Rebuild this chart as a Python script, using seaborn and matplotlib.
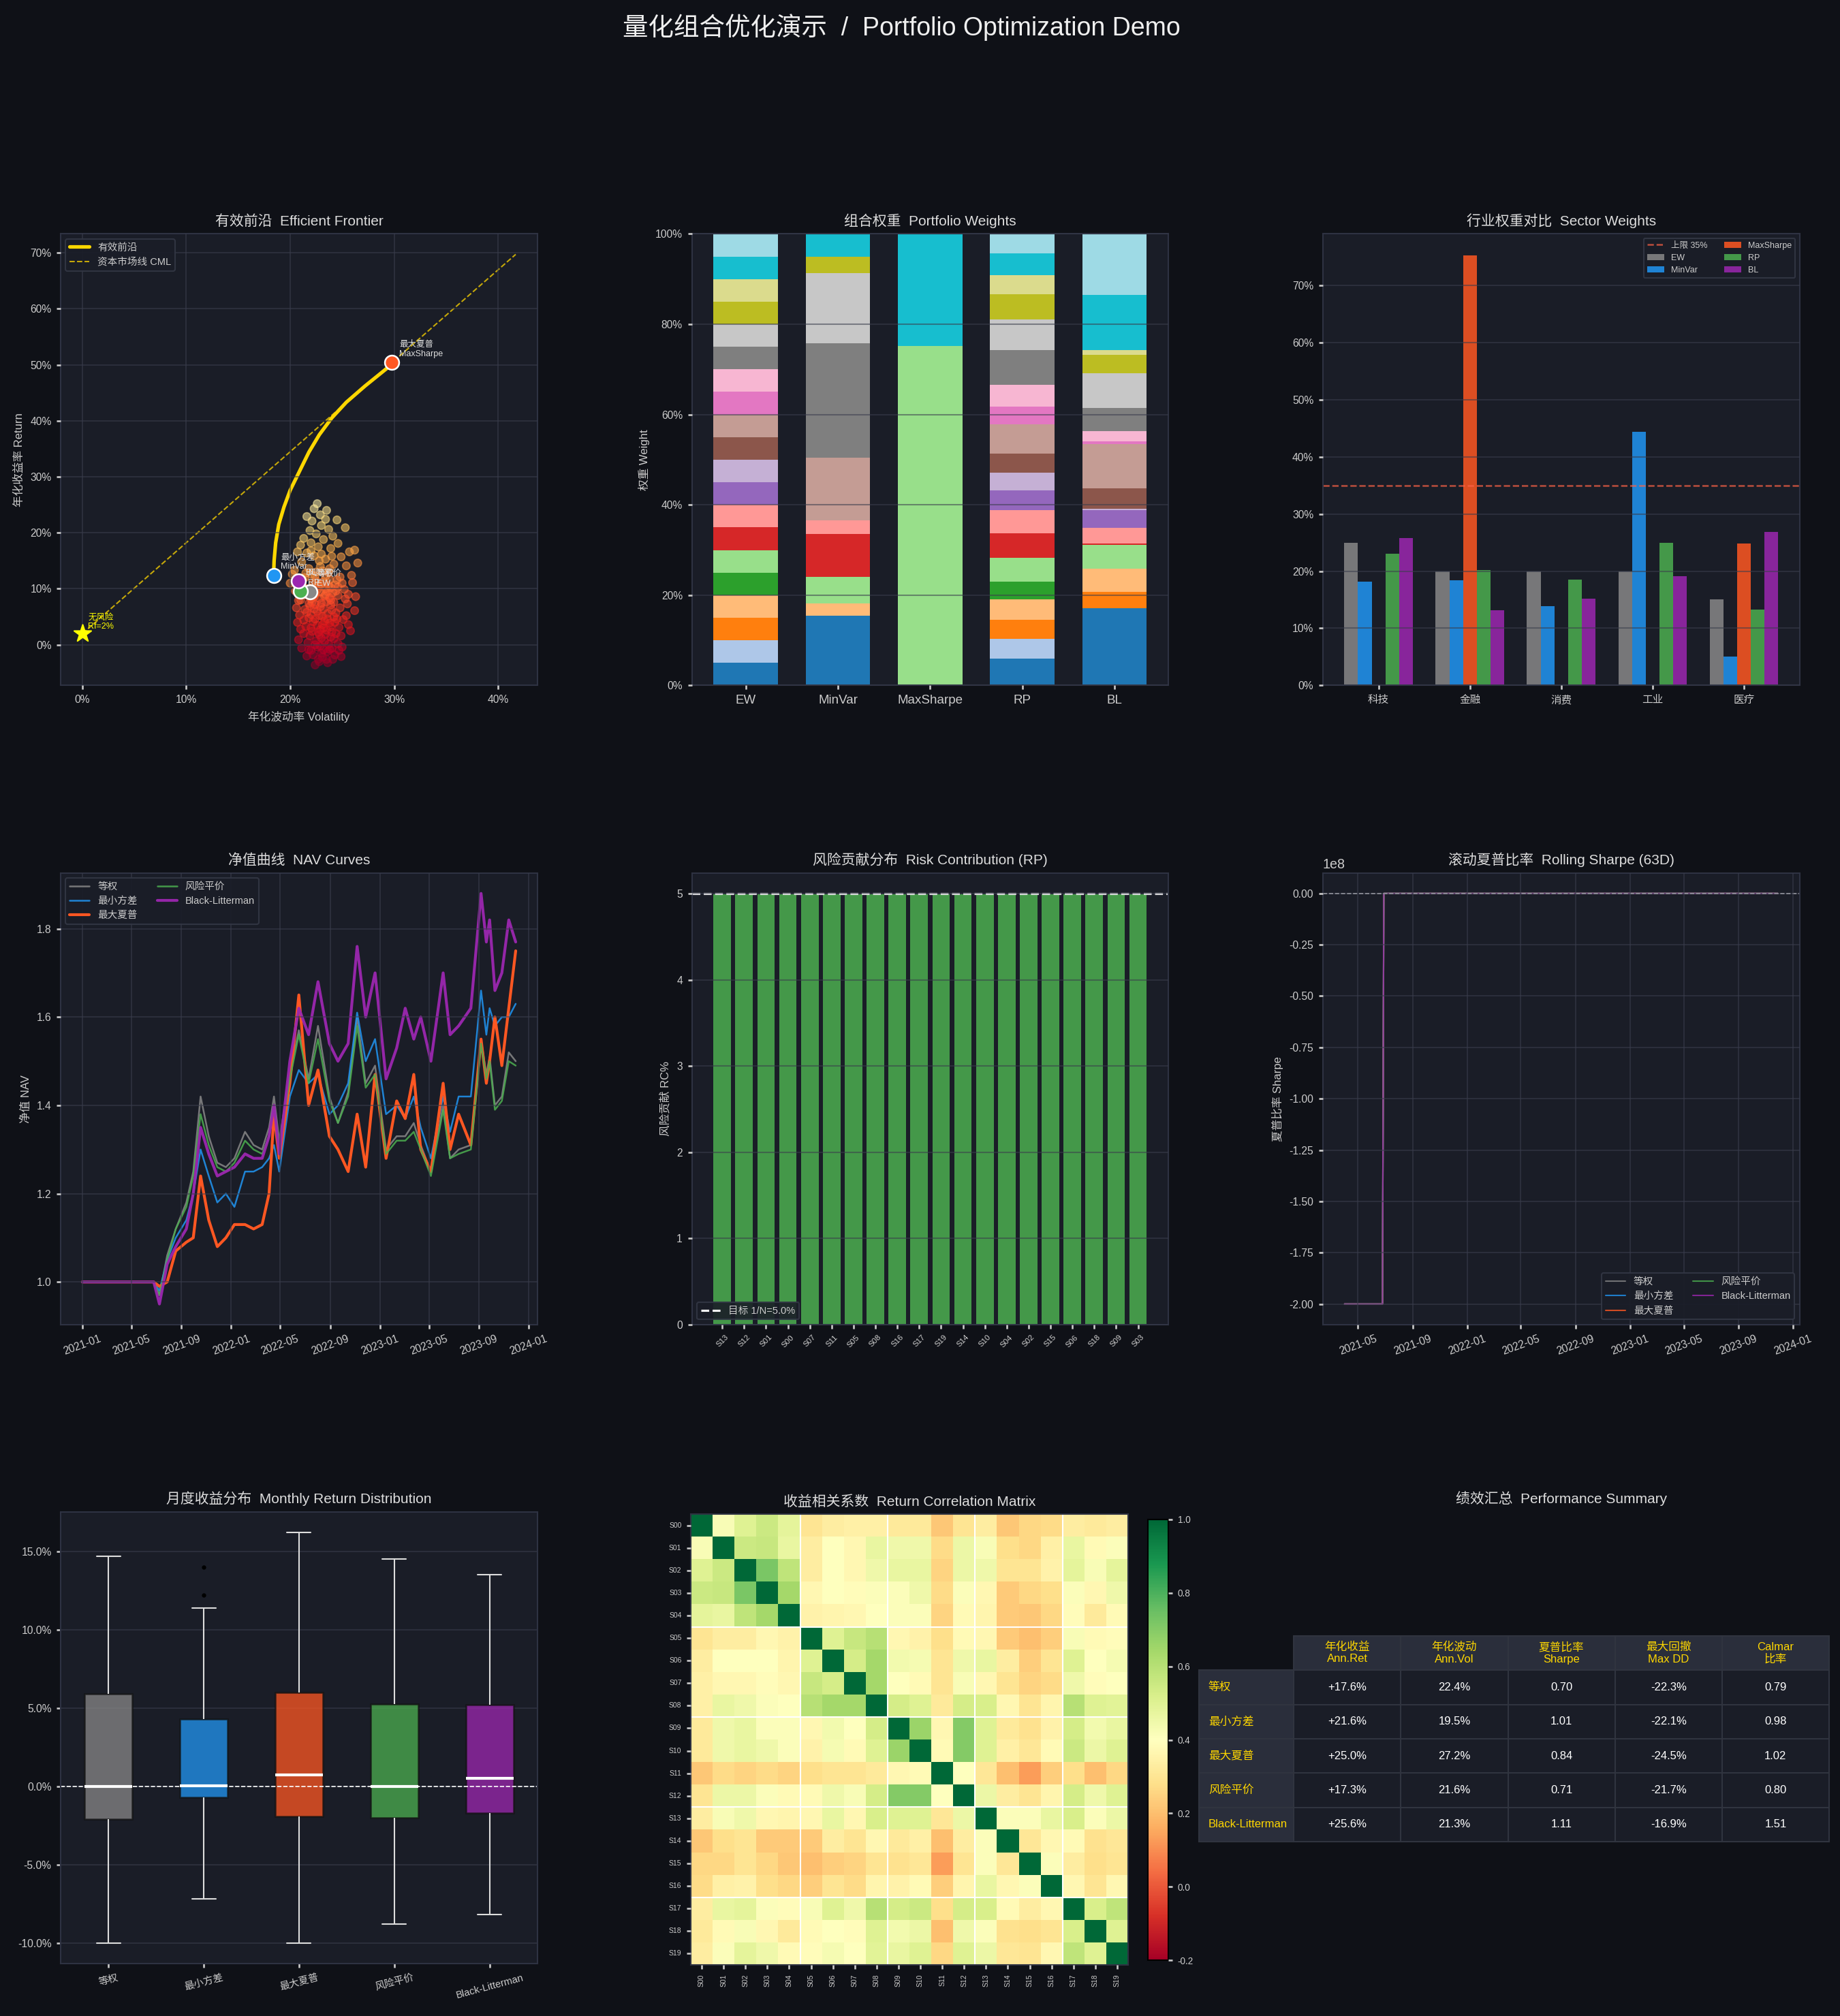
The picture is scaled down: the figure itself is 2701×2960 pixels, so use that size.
import matplotlib
matplotlib.use("Agg")
import matplotlib.pyplot as plt
import matplotlib.dates as mdates
from matplotlib.ticker import FuncFormatter, PercentFormatter
import numpy as np
import pandas as pd
import seaborn as sns

# === COLOURS === #
BG = "#0f1117"
PANEL = "#1a1d27"
SPINE = "#2e3242"
GRID = "#3a3d4c"
TXT = "#dddddd"
TICK = "#cccccc"

sns.set_theme(
    style="darkgrid",
    rc={
        "figure.facecolor": BG,
        "axes.facecolor": PANEL,
        "axes.edgecolor": SPINE,
        "axes.linewidth": 1.0,
        "axes.labelcolor": TICK,
        "axes.grid": True,
        "axes.axisbelow": False,
        "grid.color": GRID,
        "grid.alpha": 0.55,
        "grid.linewidth": 1.0,
        "text.color": TXT,
        "xtick.color": TICK,
        "ytick.color": TICK,
        "xtick.bottom": True,
        "ytick.left": True,
        "xtick.major.size": 3,
        "ytick.major.size": 3,
        "xtick.labelsize": 9.5,
        "ytick.labelsize": 9.5,
        "legend.facecolor": PANEL,
        "legend.edgecolor": "#333745",
        "legend.labelcolor": TICK,
        "legend.framealpha": 0.9,
        "axes.unicode_minus": False,
    },
)
plt.rcParams["font.family"] = ["Liberation Sans", "Noto Sans CJK SC", "DejaVu Sans"]

# === DATA === #
PORTS = ["EW", "MinVar", "MaxSharpe", "RP", "BL"]
PORT_CN = ["等权", "最小方差", "最大夏普", "风险平价", "Black-Litterman"]
PORT_COLORS = ["#888888", "#2196F3", "#FF5722", "#4CAF50", "#9C27B0"]

STOCKS = [f"S{i:02d}" for i in range(20)]
STOCK_SECTOR = ["科技"] * 5 + ["金融"] * 4 + ["消费"] * 4 + ["工业"] * 4 + ["医疗"] * 3
SECTORS = ["科技", "金融", "消费", "工业", "医疗"]

# weights in %, one value per stock S00..S19
w_ew = [5.0] * 20
w_minvar = [15.5, 0, 0, 2.7, 0, 5.9, 9.4, 3.1, 0, 0, 0, 13.9, 0, 0, 25.3, 15.5, 3.6, 0, 5.1, 0]
w_maxsharpe = [0, 0, 0, 0, 0, 75.2, 0, 0, 0, 0, 0, 0, 0, 0, 0, 0, 0, 0, 24.8, 0]
w_rp = [5.9, 4.4, 4.2, 4.6, 3.9, 5.2, 5.5, 5.1, 4.4, 3.9, 4.3, 6.4, 3.9, 4.9, 7.6, 6.8, 5.7, 4.2, 4.8, 4.3]
w_bl = [17.1, 0, 3.7, 5.0, 0, 5.3, 0.3, 3.5, 4.0, 0.3, 4.5, 9.7, 0.7, 2.2, 5.1, 7.7, 4.1, 1.0, 12.3, 13.5]

# efficient frontier (vol %, ret %)
frontier_vol = [18.4, 18.45, 18.6, 18.9, 19.4, 20.0, 20.9, 21.8, 22.8, 24.0, 25.4, 27.2, 28.8, 29.4]
frontier_ret = [12.4, 15.0, 18.2, 21.5, 24.6, 27.6, 31.0, 34.4, 37.5, 40.5, 43.3, 46.2, 48.6, 49.5]
cml_vol = [0.0, 41.7]
cml_ret = [2.0, 69.7]
point_vol = [21.9, 18.4, 29.8, 21.0, 20.8]
point_ret = [9.4, 12.4, 50.4, 9.6, 11.4]
point_text = ["等权\nEW", "最小方差\nMinVar", "最大夏普\nMaxSharpe", "风险平价\nRP", "BL"]

cloud_vol = [
    22.6, 22.3, 23.5, 22.9, 21.6, 22.1, 23.4, 24.5, 25.3, 23.0, 21.9, 23.7, 22.5, 24.1, 21.3, 23.2, 22.0, 24.6,
    22.7, 23.9, 21.0, 25.7, 26.2, 21.6, 20.7, 24.9, 26.5, 22.3, 23.4, 21.1, 25.4, 24.2, 22.9, 20.4, 21.8, 23.7,
    25.9, 24.8, 22.4, 20.2, 21.4, 23.1, 22.0, 23.0, 24.0, 26.0, 21.2, 23.2, 20.0, 24.3, 25.2, 22.0, 23.6, 21.5,
    26.3, 24.6, 22.8, 20.8, 25.5, 23.9, 21.9, 22.6, 24.4, 26.2, 23.1, 20.9, 25.1, 22.2, 23.8, 21.5, 24.7, 22.9,
    25.8, 23.4, 21.9, 24.2, 22.5, 20.8, 23.7, 22.7, 23.9, 21.7, 22.4, 23.3, 24.1, 21.2, 22.1, 23.5, 24.8, 21.4,
    22.9, 23.6, 24.5, 21.8, 22.6, 23.2, 24.0, 22.1, 23.0, 24.9, 21.3, 22.3, 23.8, 25.0, 21.0, 22.5, 23.4, 24.6,
    20.5, 25.6, 22.0, 23.3, 25.4, 20.6, 24.2, 25.0, 22.0, 23.0, 24.3, 21.6, 22.7, 23.6, 24.9, 22.4, 23.8, 22.9,
    21.1, 22.2, 23.0, 23.8, 22.6, 23.4, 24.4, 21.6, 22.9, 23.9, 22.4, 23.2, 24.0, 21.8, 22.8, 23.6, 24.3, 21.6,
    22.4, 23.1, 23.9, 22.0, 22.8, 23.5, 24.4, 21.7, 22.6, 23.3, 24.0, 23.1, 22.2, 23.6, 24.6, 22.5, 23.4, 22.0,
    23.8, 22.8, 21.5, 24.5, 20.9, 25.3, 20.7, 25.6, 21.0, 24.7, 23.5, 22.0, 23.0, 24.2, 21.3, 22.3, 23.7, 22.7,
    23.9, 22.4, 21.8, 23.2, 24.1, 22.8, 21.9,
]
cloud_ret = [
    25.2, 24.3, 24.0, 23.2, 22.9, 22.1, 22.4, 22.3, 20.9, 21.3, 20.4, 20.6, 19.8, 19.4, 19.0, 18.8, 18.2, 18.1,
    17.5, 17.2, 17.8, 16.6, 16.9, 16.4, 16.6, 15.7, 14.6, 15.9, 15.3, 14.8, 14.1, 14.4, 14.0, 13.3, 13.6, 12.9,
    12.4, 12.1, 12.3, 12.6, 12.0, 13.2, 16.8, 16.2, 15.8, 11.1, 11.6, 11.3, 11.0, 10.7, 9.9, 10.1, 9.5, 8.9,
    8.6, 8.8, 8.3, 7.9, 7.3, 7.1, 6.9, 6.0, 5.7, 6.1, 5.1, 5.3, 4.5, 4.1, 3.9, 3.3, 3.1, 2.7,
    2.5, 1.9, 1.6, 1.1, 0.7, 0.9, 0.1, 10.6, 10.2, 9.6, 9.1, 8.7, 9.3, 10.4, 7.6, 7.7, 6.6, 6.3,
    6.8, 5.6, 4.6, 4.8, 3.5, 3.0, 2.3, 2.4, 1.2, 1.6, 2.0, 8.6, 8.4, 11.0, 8.0, 11.4, 10.0, 10.3,
    9.6, 9.0, 5.4, 4.2, 5.2, 6.6, 7.6, -0.4, -1.0, -1.5, -1.8, -2.0, -2.6, -3.2, -2.1, -3.6, -0.8, -0.2,
    -0.6, 11.0, 10.8, 11.6, 9.8, 9.0, 9.6, 10.0, 9.4, 8.0, 7.2, 6.4, 6.2, 7.4, 5.2, 4.6, 4.0, 5.8,
    4.6, 3.6, 3.2, 3.0, 1.8, 2.6, 2.0, 0.4, -0.4, 0.6, -0.6, -2.2, -1.8, -1.2, 0.2, 13.0, 12.2, 12.6,
    13.6, 15.0, 12.8, 11.6, 9.8, 8.2, 4.0, 3.6, 2.8, -1.0, -2.6, 8.2, 7.4, 5.0, 4.4, 6.4, 10.6, 2.2,
    1.4, 0.0, -0.9, -0.9, -2.6, -3.0, 9.2,
]

# NAV curves
nav_dates = [
    "2021-01-01", "2021-06-25", "2021-07-09", "2021-07-28", "2021-08-18", "2021-09-13", "2021-09-30",
    "2021-10-18", "2021-11-07", "2021-11-28", "2021-12-19", "2022-01-09", "2022-02-04", "2022-02-25",
    "2022-03-18", "2022-04-04", "2022-04-16", "2022-04-29", "2022-05-25", "2022-06-16", "2022-07-10",
    "2022-08-02", "2022-08-30", "2022-09-20", "2022-10-15", "2022-11-06", "2022-11-27", "2022-12-20",
    "2023-01-16", "2023-02-11", "2023-03-04", "2023-03-25", "2023-04-11", "2023-05-06", "2023-06-05",
    "2023-06-22", "2023-07-13", "2023-08-12", "2023-09-06", "2023-09-19", "2023-09-27", "2023-10-10",
    "2023-10-27", "2023-11-13", "2023-11-30",
]
nav_ew = [1.00, 1.00, 0.97, 1.06, 1.12, 1.18, 1.25, 1.42, 1.33, 1.27, 1.26, 1.28, 1.34, 1.31, 1.30, 1.35,
          1.42, 1.32, 1.47, 1.57, 1.46, 1.58, 1.42, 1.36, 1.43, 1.60, 1.45, 1.49, 1.30, 1.33, 1.33, 1.36,
          1.31, 1.25, 1.40, 1.28, 1.30, 1.31, 1.55, 1.47, 1.51, 1.40, 1.42, 1.52, 1.50]
nav_minvar = [1.00, 1.00, 0.98, 1.05, 1.10, 1.14, 1.20, 1.30, 1.24, 1.18, 1.20, 1.17, 1.25, 1.25, 1.26, 1.28,
              1.31, 1.25, 1.42, 1.48, 1.45, 1.47, 1.38, 1.40, 1.45, 1.61, 1.50, 1.55, 1.38, 1.40, 1.37, 1.42,
              1.35, 1.28, 1.42, 1.34, 1.42, 1.42, 1.66, 1.56, 1.62, 1.58, 1.60, 1.60, 1.63]
nav_maxsharpe = [1.00, 1.00, 0.99, 1.00, 1.07, 1.09, 1.10, 1.24, 1.14, 1.08, 1.10, 1.13, 1.13, 1.12, 1.13, 1.20,
                 1.38, 1.28, 1.45, 1.65, 1.40, 1.48, 1.33, 1.30, 1.25, 1.38, 1.26, 1.47, 1.28, 1.41, 1.37, 1.47,
                 1.30, 1.25, 1.45, 1.30, 1.38, 1.31, 1.55, 1.45, 1.50, 1.60, 1.49, 1.62, 1.75]
nav_rp = [1.00, 1.00, 0.97, 1.05, 1.12, 1.17, 1.24, 1.38, 1.31, 1.26, 1.25, 1.27, 1.32, 1.30, 1.29, 1.33,
          1.40, 1.31, 1.46, 1.56, 1.45, 1.55, 1.41, 1.36, 1.42, 1.58, 1.44, 1.47, 1.29, 1.32, 1.32, 1.34,
          1.30, 1.24, 1.39, 1.28, 1.29, 1.30, 1.54, 1.46, 1.50, 1.39, 1.41, 1.50, 1.49]
nav_bl = [1.00, 1.00, 0.95, 1.04, 1.08, 1.12, 1.20, 1.35, 1.29, 1.24, 1.25, 1.26, 1.29, 1.28, 1.28, 1.33,
          1.40, 1.29, 1.50, 1.62, 1.56, 1.68, 1.54, 1.50, 1.54, 1.76, 1.60, 1.70, 1.46, 1.53, 1.62, 1.55,
          1.60, 1.50, 1.70, 1.56, 1.58, 1.62, 1.88, 1.77, 1.82, 1.66, 1.70, 1.82, 1.77]

# risk contribution of the RP portfolio (%), in plotted order
rc_labels = ["S13", "S12", "S01", "S00", "S07", "S11", "S05", "S08", "S16", "S17",
             "S19", "S14", "S10", "S04", "S02", "S15", "S06", "S18", "S09", "S03"]
rc_values = [4.99, 4.99, 4.99, 4.99, 4.99, 4.99, 4.99, 4.99, 4.99, 4.99,
             4.99, 4.99, 4.99, 4.99, 4.99, 4.99, 4.99, 4.99, 4.99, 4.99]

# rolling 63D sharpe
roll_dates = ["2021-04-01", "2021-06-25", "2021-06-28", "2021-08-16", "2021-10-18", "2021-12-20",
              "2022-02-21", "2022-04-25", "2022-06-27", "2022-08-29", "2022-10-31", "2022-12-30",
              "2023-03-01", "2023-05-01", "2023-07-03", "2023-09-05", "2023-11-28"]
roll_ew = [-2e8, -2e8, 0.0, 2.8, 3.9, -1.2, 1.1, 0.6, 2.4, 0.9, -0.8, 1.7, -1.5, -0.9, 0.4, 2.2, 0.8]
roll_minvar = [-2e8, -2e8, 0.0, 2.5, 3.4, -0.9, 1.3, 0.8, 2.6, 0.7, -0.2, 1.9, -1.1, -0.5, 0.6, 2.6, 1.2]
roll_maxsharpe = [-2e8, -2e8, 0.0, 1.9, 3.1, -1.6, 0.9, 1.5, 2.9, -0.4, -1.2, 2.1, -0.6, -1.0, 0.9, 1.8, 2.3]
roll_rp = [-2e8, -2e8, 0.0, 2.7, 3.7, -1.1, 1.0, 0.7, 2.3, 0.8, -0.7, 1.6, -1.4, -0.8, 0.3, 2.1, 0.7]
roll_bl = [-2e8, -2e8, 0.0, 2.2, 3.3, -0.8, 1.2, 1.0, 2.7, 0.5, 0.3, 1.8, -0.3, -0.6, 1.1, 2.9, 0.9]

# monthly returns (%)
mret_ew = [-10.0, -6.5, -4.8, -3.9, -3.2, -2.9, -2.6, -2.4, -2.2, -2.07, -1.5, -0.9, -0.3,
           0, 0, 0, 0, 0, 0,
           0.4, 1.2, 1.9, 2.6, 3.3, 4.1, 4.8, 5.8, 6.2, 6.9, 7.5, 8.3, 9.1, 10.2, 11.4, 12.8, 14.7]
mret_minvar = [-7.2, -5.1, -3.6, -2.5, -1.9, -1.4, -1.1, -0.9, -0.75, -0.68, -0.4, -0.15,
               0, 0, 0, 0, 0, 0,
               0.1, 0.6, 1.1, 1.6, 2.2, 2.8, 3.4, 3.9, 4.2, 4.6, 5.3, 6.1, 7.0, 8.2, 9.6, 11.4, 12.2, 14.0]
mret_maxsharpe = [-10.0, -7.1, -5.4, -4.3, -3.5, -2.9, -2.5, -2.2, -2.0, -1.87, -0.8,
                  0, 0, 0, 0, 0, 0,
                  0.5, 1.0, 1.7, 2.5, 3.2, 4.0, 4.8, 5.4, 5.8, 5.9, 6.3, 7.2, 8.1, 9.0, 10.3, 11.5, 12.9, 14.4, 16.2]
mret_rp = [-8.8, -6.0, -4.5, -3.6, -3.0, -2.7, -2.45, -2.25, -2.1, -1.97, -1.4, -0.8, -0.3,
           0, 0, 0, 0, 0, 0,
           0.3, 1.0, 1.6, 2.3, 2.9, 3.6, 4.3, 5.1, 5.7, 6.3, 7.0, 7.8, 8.7, 9.8, 11.0, 12.6, 14.5]
mret_bl = [-8.2, -5.9, -4.4, -3.4, -2.8, -2.4, -2.1, -1.9, -1.8, -1.67, -0.6,
           0, 0, 0, 0, 0, 0,
           0.3, 0.7, 1.3, 2.0, 2.7, 3.3, 3.9, 4.5, 4.9, 5.1, 5.5, 6.3, 7.1, 7.9, 8.8, 9.9, 11.0, 12.2, 13.5]

# return correlation matrix (rows S00..S19)
corr_rows = [
    [1.00, 0.42, 0.50, 0.55, 0.48, 0.30, 0.33, 0.34, 0.34, 0.32, 0.32, 0.22, 0.30, 0.33, 0.22, 0.26, 0.27, 0.33, 0.32, 0.33],
    [0.42, 1.00, 0.55, 0.56, 0.47, 0.33, 0.40, 0.37, 0.47, 0.45, 0.45, 0.27, 0.46, 0.42, 0.28, 0.26, 0.34, 0.47, 0.38, 0.41],
    [0.50, 0.55, 1.00, 0.72, 0.58, 0.33, 0.40, 0.37, 0.45, 0.47, 0.47, 0.25, 0.46, 0.45, 0.30, 0.30, 0.35, 0.48, 0.42, 0.48],
    [0.55, 0.56, 0.72, 1.00, 0.64, 0.37, 0.40, 0.39, 0.41, 0.41, 0.45, 0.27, 0.41, 0.37, 0.23, 0.26, 0.28, 0.41, 0.37, 0.45],
    [0.48, 0.47, 0.58, 0.64, 1.00, 0.35, 0.36, 0.37, 0.40, 0.41, 0.41, 0.25, 0.38, 0.36, 0.23, 0.22, 0.26, 0.39, 0.32, 0.38],
    [0.30, 0.33, 0.33, 0.37, 0.35, 1.00, 0.50, 0.56, 0.60, 0.37, 0.35, 0.28, 0.38, 0.37, 0.23, 0.20, 0.24, 0.42, 0.38, 0.39],
    [0.33, 0.40, 0.40, 0.40, 0.36, 0.50, 1.00, 0.53, 0.64, 0.44, 0.43, 0.30, 0.45, 0.47, 0.33, 0.24, 0.30, 0.50, 0.40, 0.43],
    [0.34, 0.37, 0.37, 0.39, 0.37, 0.56, 0.53, 1.00, 0.64, 0.40, 0.38, 0.30, 0.42, 0.37, 0.30, 0.25, 0.27, 0.45, 0.39, 0.40],
    [0.34, 0.47, 0.45, 0.41, 0.40, 0.60, 0.64, 0.64, 1.00, 0.53, 0.50, 0.32, 0.53, 0.52, 0.37, 0.30, 0.36, 0.60, 0.50, 0.49],
    [0.32, 0.45, 0.47, 0.41, 0.41, 0.37, 0.44, 0.40, 0.53, 1.00, 0.66, 0.37, 0.70, 0.50, 0.32, 0.29, 0.35, 0.53, 0.44, 0.47],
    [0.32, 0.45, 0.47, 0.45, 0.41, 0.35, 0.43, 0.38, 0.50, 0.66, 1.00, 0.38, 0.70, 0.50, 0.34, 0.31, 0.38, 0.55, 0.46, 0.50],
    [0.22, 0.27, 0.25, 0.27, 0.25, 0.28, 0.30, 0.30, 0.32, 0.37, 0.38, 1.00, 0.40, 0.31, 0.20, 0.13, 0.24, 0.28, 0.20, 0.26],
    [0.30, 0.46, 0.46, 0.41, 0.38, 0.38, 0.45, 0.42, 0.53, 0.70, 0.70, 0.40, 1.00, 0.46, 0.33, 0.30, 0.36, 0.53, 0.45, 0.50],
    [0.33, 0.42, 0.45, 0.37, 0.36, 0.37, 0.47, 0.37, 0.52, 0.50, 0.50, 0.31, 0.46, 1.00, 0.41, 0.41, 0.47, 0.52, 0.41, 0.46],
    [0.22, 0.28, 0.30, 0.23, 0.23, 0.23, 0.33, 0.30, 0.37, 0.32, 0.34, 0.20, 0.33, 0.41, 1.00, 0.31, 0.37, 0.38, 0.29, 0.31],
    [0.26, 0.26, 0.30, 0.26, 0.22, 0.20, 0.24, 0.25, 0.30, 0.29, 0.31, 0.13, 0.30, 0.41, 0.31, 1.00, 0.41, 0.33, 0.28, 0.30],
    [0.27, 0.34, 0.35, 0.28, 0.26, 0.24, 0.30, 0.27, 0.36, 0.35, 0.38, 0.24, 0.36, 0.47, 0.37, 0.41, 1.00, 0.37, 0.30, 0.37],
    [0.33, 0.47, 0.48, 0.41, 0.39, 0.42, 0.50, 0.45, 0.60, 0.53, 0.55, 0.28, 0.53, 0.52, 0.38, 0.33, 0.37, 1.00, 0.52, 0.58],
    [0.32, 0.38, 0.42, 0.37, 0.32, 0.38, 0.40, 0.39, 0.50, 0.44, 0.46, 0.20, 0.45, 0.41, 0.29, 0.28, 0.30, 0.52, 1.00, 0.50],
    [0.33, 0.41, 0.48, 0.45, 0.38, 0.39, 0.43, 0.40, 0.49, 0.47, 0.50, 0.26, 0.50, 0.46, 0.31, 0.30, 0.37, 0.58, 0.50, 1.00],
]

# performance summary table
perf_cols = ["年化收益\nAnn.Ret", "年化波动\nAnn.Vol", "夏普比率\nSharpe", "最大回撤\nMax DD", "Calmar\n比率"]
perf_ann_ret = ["+17.6%", "+21.6%", "+25.0%", "+17.3%", "+25.6%"]
perf_ann_vol = ["22.4%", "19.5%", "27.2%", "21.6%", "21.3%"]
perf_sharpe = ["0.70", "1.01", "0.84", "0.71", "1.11"]
perf_maxdd = ["-22.3%", "-22.1%", "-24.5%", "-21.7%", "-16.9%"]
perf_calmar = ["0.79", "0.98", "1.02", "0.80", "1.51"]


def style_ax(ax, title, xlabel=None, ylabel=None, tick_size=7.5):
    ax.set_title(title, fontsize=10, color=TXT, pad=6)
    ax.tick_params(labelsize=tick_size, colors=TICK, length=3)
    ax.set_xlabel(xlabel if xlabel else "", fontsize=8, color=TICK)
    ax.set_ylabel(ylabel if ylabel else "", fontsize=8, color=TICK)
    for sp in ax.spines.values():
        sp.set_color(SPINE)
        sp.set_visible(True)


def date_axis(ax):
    ax.xaxis.set_major_locator(mdates.MonthLocator(bymonth=[1, 5, 9]))
    ax.xaxis.set_major_formatter(mdates.DateFormatter("%Y-%m"))
    plt.setp(ax.get_xticklabels(), rotation=20)


# === FIGURE === #
fig = plt.figure(figsize=(2701 / 150, 2960 / 150), dpi=150)
gs = fig.add_gridspec(3, 3, left=0.033, right=0.978, top=0.884, bottom=0.026, wspace=0.324, hspace=0.415)
axs = [[fig.add_subplot(gs[r, c]) for c in range(3)] for r in range(3)]
pct0 = FuncFormatter(lambda v, _: f"{v:.0f}%")

# --- 1. efficient frontier --- #
ax = axs[0][0]
cloud = pd.DataFrame({"vol": cloud_vol, "ret": cloud_ret})
cloud["sharpe"] = (cloud["ret"] - 2.0) / cloud["vol"]
sns.scatterplot(data=cloud, x="vol", y="ret", hue="sharpe", palette="YlOrRd_r", hue_norm=(-0.3, 1.2),
                s=30, alpha=0.55, edgecolor="face", linewidth=0.8, legend=False, ax=ax)
sns.lineplot(x=frontier_vol, y=frontier_ret, sort=False, color="#FFD700", lw=2.5, label="有效前沿", ax=ax)
sns.lineplot(x=cml_vol, y=cml_ret, color="#FFD700", lw=1.0, ls="--", alpha=0.75, label="资本市场线 CML", ax=ax)
for v, r, c, t in zip(point_vol, point_ret, PORT_COLORS, point_text):
    ax.scatter([v], [r], s=100, color=c, edgecolor="white", linewidth=1.2, zorder=5)
    ax.annotate(t, (v, r), xytext=(5, 3), textcoords="offset points", fontsize=6, color=TXT,
                va="bottom", ha="left", zorder=6)
ax.scatter([0], [2.0], marker="*", s=160, color="#FFFF00", zorder=6)
ax.annotate("无风险\nRf=2%", (0, 2.0), xytext=(4, 2), textcoords="offset points", fontsize=6,
            color="#FFFF00", va="bottom", ha="left", zorder=6)
ax.xaxis.set_major_formatter(pct0)
ax.yaxis.set_major_formatter(pct0)
ax.legend(loc="upper left", fontsize=7)
style_ax(ax, "有效前沿  Efficient Frontier", "年化波动率 Volatility", "年化收益率 Return")

# --- 2. stacked portfolio weights --- #
ax = axs[0][1]
weights = pd.DataFrame({"EW": w_ew, "MinVar": w_minvar, "MaxSharpe": w_maxsharpe, "RP": w_rp, "BL": w_bl},
                       index=STOCKS)
pal20 = sns.color_palette("tab20", 20)
bottom = np.zeros(len(PORTS))
for i, s in enumerate(STOCKS):
    vals = weights.loc[s, PORTS].to_numpy() / 100
    ax.bar(PORTS, vals, bottom=bottom, width=0.7, color=pal20[i], linewidth=0)
    bottom += vals
ax.set_ylim(0, 1)
ax.yaxis.set_major_formatter(PercentFormatter(1.0, decimals=0))
ax.grid(axis="x", visible=False)
style_ax(ax, "组合权重  Portfolio Weights", None, "权重 Weight")
ax.tick_params(axis="x", labelsize=9)

# --- 3. sector weights --- #
ax = axs[0][2]
sector_long = weights.assign(sector=STOCK_SECTOR).groupby("sector")[PORTS].sum().reset_index()
sector_long = sector_long.melt(id_vars="sector", var_name="portfolio", value_name="weight")
sector_long["weight"] = sector_long["weight"] / 100
sns.barplot(data=sector_long, x="sector", y="weight", hue="portfolio", order=SECTORS, hue_order=PORTS,
            palette=PORT_COLORS, width=0.75, saturation=1, alpha=0.85, linewidth=0, errorbar=None, ax=ax)
ax.axhline(0.35, color="tomato", ls="--", lw=1.2, alpha=0.7, label="上限 35%")
handles, labels = ax.get_legend_handles_labels()
order = [labels.index("上限 35%")] + [labels.index(p) for p in PORTS]
ax.legend([handles[i] for i in order], [labels[i] for i in order], loc="upper right", ncol=2, fontsize=6)
ax.set_xlim(-0.61, 4.61)
ax.yaxis.set_major_formatter(PercentFormatter(1.0, decimals=0))
ax.grid(axis="x", visible=False)
style_ax(ax, "行业权重对比  Sector Weights")

# --- 4. NAV curves --- #
ax = axs[1][0]
nav_x = pd.to_datetime(nav_dates)
nav_series = [nav_ew, nav_minvar, nav_maxsharpe, nav_rp, nav_bl]
nav_lw = [1.2, 1.2, 2.0, 1.2, 2.0]
nav_alpha = [0.85, 0.85, 1.0, 0.85, 0.95]
for vals, c, lab, lw, a in zip(nav_series, PORT_COLORS, PORT_CN, nav_lw, nav_alpha):
    sns.lineplot(x=nav_x, y=vals, color=c, lw=lw, alpha=a, label=lab, ax=ax)
ax.legend(loc="upper left", ncol=2, fontsize=7)
date_axis(ax)
style_ax(ax, "净值曲线  NAV Curves", None, "净值 NAV")

# --- 5. risk contribution --- #
ax = axs[1][1]
sns.barplot(x=rc_labels, y=rc_values, color="#4CAF50", saturation=1, alpha=0.85, linewidth=0, ax=ax)
ax.axhline(5.0, color="white", ls="--", lw=1.5, label="目标 1/N=5.0%")
ax.legend(loc="lower left", fontsize=7)
ax.set_xlim(-1.39, 20.39)
ax.grid(axis="x", visible=False)
style_ax(ax, "风险贡献分布  Risk Contribution (RP)", None, "风险贡献 RC%")
ax.tick_params(axis="x", labelsize=5.5, rotation=45)

# --- 6. rolling sharpe --- #
ax = axs[1][2]
roll_x = pd.to_datetime(roll_dates)
for vals, c, lab in zip([roll_ew, roll_minvar, roll_maxsharpe, roll_rp, roll_bl], PORT_COLORS, PORT_CN):
    sns.lineplot(x=roll_x, y=vals, color=c, lw=1.0, alpha=0.8, label=lab, ax=ax)
ax.axhline(0, color="white", ls="--", lw=0.8)
ax.legend(loc="lower right", ncol=2, fontsize=7)
date_axis(ax)
style_ax(ax, "滚动夏普比率  Rolling Sharpe (63D)", None, "夏普比率 Sharpe")

# --- 7. monthly return distribution --- #
ax = axs[2][0]
ax.set_axisbelow(True)
mret = pd.DataFrame({
    "策略": sum([[cn] * 36 for cn in PORT_CN], []),
    "ret": mret_ew + mret_minvar + mret_maxsharpe + mret_rp + mret_bl,
})
sns.boxplot(data=mret, x="策略", y="ret", hue="策略", order=PORT_CN, hue_order=PORT_CN, palette=PORT_COLORS,
            width=0.5, saturation=1, legend=False, linecolor="#dddddd", ax=ax,
            boxprops=dict(alpha=0.75, edgecolor="#111111", linewidth=1.2),
            medianprops=dict(color="white", linewidth=2),
            whiskerprops=dict(color="#dddddd", linewidth=1),
            capprops=dict(color="#dddddd", linewidth=1),
            flierprops=dict(marker="o", markersize=2, markerfacecolor="black", markeredgecolor="black"))
ax.axhline(0, color="white", ls="--", lw=0.8)
ax.yaxis.set_major_formatter(FuncFormatter(lambda v, _: f"{v:.1f}%"))
ax.grid(axis="x", visible=False)
style_ax(ax, "月度收益分布  Monthly Return Distribution")
ax.tick_params(axis="x", labelsize=7, rotation=15)

# --- 8. correlation heatmap --- #
ax = axs[2][1]
ax.set_position([1014 / 2701, 1 - 2885 / 2960, 642 / 2701, 662 / 2960])
cax = fig.add_axes([1685 / 2701, 1 - 2878 / 2960, 30 / 2701, 647 / 2960])
corr = pd.DataFrame(corr_rows, index=STOCKS, columns=STOCKS)
sns.heatmap(corr, cmap="RdYlGn", vmin=-0.2, vmax=1.0, ax=ax, cbar_ax=cax, xticklabels=STOCKS, yticklabels=STOCKS)
for b in [5, 9, 13, 17]:
    ax.axhline(b, color="white", lw=1)
    ax.axvline(b, color="white", lw=1)
ax.grid(False)
cax.grid(False)
style_ax(ax, "收益相关系数  Return Correlation Matrix", tick_size=5)
plt.setp(ax.get_xticklabels(), rotation=90)
plt.setp(ax.get_yticklabels(), rotation=0)
cax.tick_params(labelsize=6.5, colors=TICK, length=3)
cbar = ax.collections[0].colorbar
if cbar is not None:
    cbar.outline.set_edgecolor("black")
    cbar.outline.set_linewidth(1)

# --- 9. performance table --- #
ax = axs[2][2]
ax.axis("off")
ax.set_title("绩效汇总  Performance Summary", fontsize=10, color=TXT, pad=6)
cells = [[name] + list(row) for name, row in
         zip(PORT_CN, zip(perf_ann_ret, perf_ann_vol, perf_sharpe, perf_maxdd, perf_calmar))]
col_w = np.array([140, 158, 158, 158, 158, 158], dtype=float)
tbl = ax.table(cellText=cells, colLabels=[""] + perf_cols, cellLoc="center",
               colWidths=list(col_w / col_w.sum()), bbox=[-0.26, 0.27, 1.322, 0.4555])
tbl.auto_set_font_size(False)
tbl.set_fontsize(8)
for (r, c), cell in tbl.get_celld().items():
    cell.set_edgecolor("#30343f")
    cell.set_linewidth(1)
    if r == 0 and c == 0:
        cell.set_visible(False)
    elif r == 0 or c == 0:
        cell.set_facecolor("#2a2e3b")
        cell.get_text().set_color("#FFD700")
        if c == 0:
            cell._loc = "left"
            cell.get_text().set_horizontalalignment("left")
    else:
        cell.set_facecolor(PANEL)
        cell.get_text().set_color("white")

fig.suptitle("量化组合优化演示  /  Portfolio Optimization Demo", fontsize=18, color="#f0f0f0",
             x=0.49, y=0.993, va="top")

fig.savefig("out.png", dpi=150, facecolor=BG)
